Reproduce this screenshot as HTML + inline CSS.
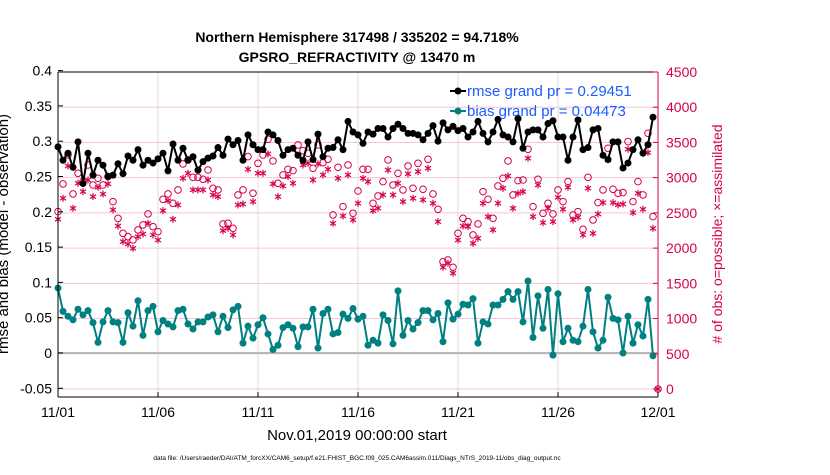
<!DOCTYPE html>
<html><head><meta charset="utf-8"><style>
body{margin:0;background:#fff;}
svg text{font-family:"Liberation Sans",sans-serif;}
</style></head><body>
<svg id="chart" width="830" height="470" xmlns="http://www.w3.org/2000/svg">
<g id="grid"></g>
<g id="marks"></g>
<g id="axes"></g>
<text x="357" y="42" font-size="14" font-weight="bold" text-anchor="middle">Northern Hemisphere 317498 / 335202 = 94.718%</text>
<text x="357" y="62" font-size="14" font-weight="bold" text-anchor="middle">GPSRO_REFRACTIVITY @ 13470 m</text>
<text x="357" y="440" font-size="15" text-anchor="middle">Nov.01,2019 00:00:00 start</text>
<text transform="translate(8,234) rotate(-90)" font-size="15" text-anchor="middle">rmse and bias (model - observation)</text>
<text transform="translate(722,234) rotate(-90)" font-size="14" fill="#d6004f" text-anchor="middle"># of obs: o=possible; ×=assimilated</text>
<text x="357" y="460" font-size="6.5" text-anchor="middle">data file: /Users/raeder/DAI/ATM_forcXX/CAM6_setup/f.e21.FHIST_BGC.f09_025.CAM6assim.011/Diags_NTrS_2019-11/obs_diag_output.nc</text>
<g>
<line x1="450" y1="91" x2="466" y2="91" stroke="#000" stroke-width="2"/><circle cx="458" cy="91" r="3.5" fill="#000"/>
<text x="467" y="96" font-size="15" fill="#1a5cff">rmse grand pr = 0.29451</text>
<line x1="450" y1="111" x2="466" y2="111" stroke="#008080" stroke-width="2"/><circle cx="458" cy="111" r="3.5" fill="#008080"/>
<text x="467" y="116" font-size="15" fill="#1a5cff">bias grand pr = 0.04473</text>
</g>
</svg>
<script>
const rmse=[.292,.273,.283,.263,.299,.240,.283,.252,.273,.266,.250,.252,.268,.254,.279,.273,.288,.266,.273,.269,.275,.283,.258,.296,.273,.290,.273,.278,.259,.271,.276,.279,.291,.280,.303,.295,.301,.273,.309,.295,.288,
.288,.313,.309,.301,.280,.288,.290,.280,.273,.299,.274,.310,.278,.290,.291,.302,.288,.328,.313,.309,.297,.313,.310,.318,.318,.306,.318,.324,.318,.311,.311,.309,.302,.311,.322,.300,.326,.316,.321,.315,
.318,.306,.313,.328,.311,.299,.313,.331,.309,.306,.299,.332,.290,.313,.316,.316,.306,.325,.329,.306,.306,.273,.306,.330,.288,.291,.316,.318,.280,.274,.299,.299,.262,.269,.288,.302,.283,.295,.334];
const bias=[.092,.059,.052,.047,.062,.054,.060,.043,.015,.044,.060,.044,.043,.015,.057,.038,.074,.025,.060,.066,.030,.046,.041,.037,.060,.062,.041,.034,.044,.044,.051,.054,.030,.052,.036,.061,.066,.014,.038,.021,.040,
.050,.027,.005,.011,.036,.040,.035,.009,.037,.037,.062,.007,.056,.062,.027,.029,.055,.049,.063,.048,.052,.011,.018,.014,.054,.046,.013,.088,.025,.046,.034,.043,.060,.060,.047,.056,.016,.071,.048,.055,
.069,.068,.077,.014,.044,.041,.068,.068,.076,.087,.076,.087,.044,.102,.022,.081,.035,.090,-.003,.084,.016,.035,.018,.016,.038,.090,.030,.007,.018,.079,.049,.047,.000,.052,.014,.040,.024,.076,-.004];
const possible=[2518,2911,3322,2769,3062,2944,3180,2896,2991,2896,3015,2660,2423,2210,2163,2116,2258,2329,2485,2305,2234,2693,2769,2636,2826,3195,3251,3005,3005,2977,3109,2849,2826,2343,2352,2281,2755,2826,3299,2778,3204,
3322,3545,3237,2920,3039,3119,3100,3464,3384,3346,3133,3464,3213,3261,2471,3147,2589,3180,2494,2811,3119,3119,2636,2740,2944,3251,2896,3062,2826,3166,2849,3204,2835,3261,2769,2551,1808,1832,1728,2210,
2423,2376,2187,2343,2802,2693,2423,2882,2991,3237,2755,2958,2967,3403,2589,2977,2494,2636,2485,2826,2660,2944,2471,2518,2267,3005,2400,2646,2826,3417,2835,2778,2788,3512,2660,2944,2755,3630,2447,0];
const assimilated=[2409,2707,3166,2565,2920,2802,2967,2731,2863,2769,2911,2542,2314,2092,2059,1997,2163,2201,2352,2187,2116,2532,2674,2409,2613,2991,3062,2826,2826,2826,2967,2755,2731,2248,2281,2187,2613,2627,3119,2660,3062,
3062,3337,2911,2731,2882,3015,2920,3322,3180,3204,2967,3195,3039,3119,2352,2991,2456,3039,2400,2636,2991,2944,2532,2565,2755,3109,2755,2920,2660,3053,2707,3086,2684,3133,2636,2376,1728,1785,1643,2116,
2314,2305,2068,2139,2636,2447,2258,2636,2849,3024,2565,2778,2802,3275,2447,2896,2362,2565,2376,2721,2551,2863,2400,2438,2187,2849,2210,2485,2646,3251,2646,2613,2627,3403,2504,2778,2551,3356,2281,0];
const xTickLabels=["11/01","11/06","11/11","11/16","11/21","11/26","12/01"];
const xTickDays=[0,5,10,15,20,25,30];
const yTicksLeft=[-0.05,0,0.05,0.1,0.15,0.2,0.25,0.3,0.35,0.4];
const yTicksRight=[0,500,1000,1500,2000,2500,3000,3500,4000,4500];

const NS="http://www.w3.org/2000/svg";
const X0=58,X1=658,YT=72,YB=397;
const xDay=d=>X0+(X1-X0)*d/30;
const xIdx=i=>xDay(i*0.25);
const yL=v=>353-v*706;
const yR=c=>389-c*317/4500;
const RED="#d6004f";
function mk(tag,attrs,parent){const e=document.createElementNS(NS,tag);for(const k in attrs)e.setAttribute(k,attrs[k]);parent.appendChild(e);return e;}
const grid=document.getElementById('grid'),marks=document.getElementById('marks'),axes=document.getElementById('axes');
mk('rect',{x:X0,y:YT,width:X1-X0,height:YB-YT,fill:'#fff'},grid);
yTicksRight.forEach(c=>{const l=mk('line',{x1:X0,x2:X1,y1:yR(c),y2:yR(c),stroke:'#f2c6d6','stroke-width':1},grid);

});
xTickDays.forEach(d=>{const l=mk('line',{x1:xDay(d),x2:xDay(d),y1:YT,y2:YB,stroke:'#dcdcdc','stroke-width':1},grid);

});
const z=mk('line',{x1:X0,x2:X1,y1:yL(0),y2:yL(0),stroke:'#b8b8b8','stroke-width':2},grid);


possible.forEach((c,i)=>{const e=mk('circle',{cx:xIdx(i),cy:yR(c),r:3.3,fill:'none',stroke:RED,'stroke-width':1},marks);

});
assimilated.forEach((c,i)=>{const x=xIdx(i),y=yR(c);const g=mk('g',{stroke:RED,'stroke-width':1.2},marks);


mk('line',{x1:x,x2:x,y1:y-3.5,y2:y+3.5},g);mk('line',{x1:x-3,x2:x+3,y1:y-2,y2:y+2},g);mk('line',{x1:x-3,x2:x+3,y1:y+2,y2:y-2},g);});
function series(arr,color,name){
const p=mk('polyline',{points:arr.map((v,i)=>xIdx(i)+','+yL(v)).join(' '),fill:'none',stroke:color,'stroke-width':2},marks);


arr.forEach((v,i)=>{const c=mk('circle',{cx:xIdx(i),cy:yL(v),r:3.5,fill:color},marks);

});}
series(bias,'#008080','bias');
series(rmse,'#000','rmse');
mk('line',{x1:X0,x2:X1,y1:YT,y2:YT,stroke:'#000'},axes);
mk('line',{x1:X0,x2:X1,y1:YB,y2:YB,stroke:'#000'},axes);
mk('line',{x1:X0,x2:X0,y1:YT,y2:YB,stroke:'#000'},axes);
mk('line',{x1:X1,x2:X1,y1:YT,y2:YB,stroke:RED},axes);
yTicksLeft.forEach(v=>{const y=yL(v);mk('line',{x1:X0,x2:X0+5,y1:y,y2:y,stroke:'#000'},axes);
const t=mk('text',{x:X0-6,y:y+5,'font-size':14,'text-anchor':'end'},axes);t.textContent=String(v);

});
yTicksRight.forEach(c=>{const y=yR(c);mk('line',{x1:X1-5,x2:X1,y1:y,y2:y,stroke:RED},axes);
const t=mk('text',{x:X1+8,y:y+5,'font-size':14,fill:RED},axes);t.textContent=String(c);

});
xTickDays.forEach((d,k)=>{const x=xDay(d);mk('line',{x1:x,x2:x,y1:YB-5,y2:YB,stroke:'#000'},axes);
const t=mk('text',{x:x,y:417,'font-size':14,'text-anchor':'middle'},axes);t.textContent=xTickLabels[k];

});
</script>
</body></html>
